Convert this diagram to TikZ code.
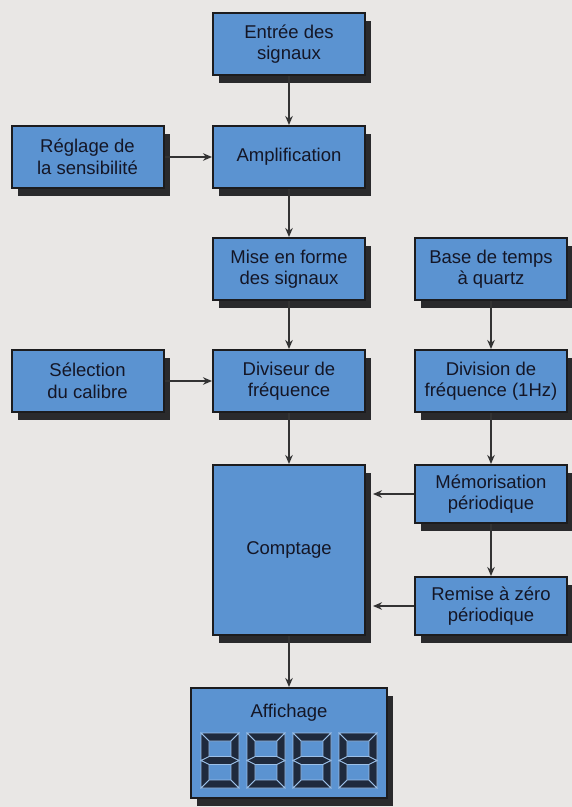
\documentclass[tikz,border=0pt]{standalone}
\usepackage{fontspec}
\setmainfont{Liberation Sans}
\usepackage{xcolor}
\usepackage{tikz}
\usetikzlibrary{arrows.meta,shadows}

\begin{document}
\begin{tikzpicture}[
  x=1pt, y=-1pt,
  font=\fontsize{18.5}{21.5}\selectfont,
  blk/.style={
    draw=cEdge, line width=2pt, fill=cBlue,
    minimum width=152pt, minimum height=62pt, inner sep=1pt,
    align=center, text=cInk,
    general shadow={fill=cShade, shadow xshift=6pt, shadow yshift=-8pt}},
  lbl/.style={text=cInk, inner sep=0pt},
  flow/.style={-{Stealth[length=9pt,width=7.5pt]}, line width=1.5pt, draw=cLine},
  seg/.style={fill=cSeg, draw=cGap, line width=0.8pt, line join=miter}
]

% ---- palette ----
\definecolor{cPaper}{HTML}{E9E7E5}
\definecolor{cBlue}{HTML}{5B93D1}
\definecolor{cEdge}{HTML}{1C1C1E}
\definecolor{cShade}{HTML}{2A2A2C}
\definecolor{cInk}{HTML}{141626}
\definecolor{cLine}{HTML}{333333}
\definecolor{cSeg}{HTML}{1F2A3D}
\definecolor{cGap}{HTML}{9CC0E8}

% ---- page ----
\fill[cPaper] (0,0) rectangle (572,807);
\useasboundingbox (0,0) rectangle (572,807);

% ================= left column =================
\node[blk] (regl) at (87.5,157) {Réglage de\\la sensibilité};
\node[blk] (selc) at (87.5,381) {Sélection\\du calibre};

% ================= middle column =================
\node[blk] (entr) at (289,44)  {Entrée des\\signaux};
\node[blk] (ampl) at (289,157) {Amplification};
\node[blk] (mise) at (289,269) {Mise en forme\\des signaux};
\node[blk] (divs) at (289,381) {Diviseur de\\fréquence};
\node[blk, minimum height=170pt] (cmpt) at (289,550) {Comptage};

% ================= right column =================
\node[blk] (base) at (491,269) {Base de temps\\à quartz};
\node[blk] (divh) at (491,381) {Division de\\fréquence (1Hz)};
\node[blk, minimum height=58pt] (memo) at (491,494) {Mémorisation\\périodique};
\node[blk, minimum height=58pt] (raz)  at (491,606) {Remise à zéro\\périodique};

% ================= display =================
\node[blk, minimum width=196pt, minimum height=110pt] (affi) at (289,743) {};
\node[lbl] (afft) at (289,713) {Affichage};
\foreach \dx in {0,46,92,138} {
  \begin{scope}[shift={(201+\dx,733)}]
    \draw[seg] (0,0) -- (38,0) -- (30,8) -- (8,8) -- cycle;
    \draw[seg] (0,55) -- (38,55) -- (30,47) -- (8,47) -- cycle;
    \draw[seg] (0,27.5) -- (8,23.5) -- (30,23.5) -- (38,27.5) -- (30,31.5) -- (8,31.5) -- cycle;
    \draw[seg] (0,0) -- (8,8) -- (8,23.5) -- (0,27.5) -- cycle;
    \draw[seg] (0,27.5) -- (8,31.5) -- (8,47) -- (0,55) -- cycle;
    \draw[seg] (38,0) -- (30,8) -- (30,23.5) -- (38,27.5) -- cycle;
    \draw[seg] (38,27.5) -- (30,31.5) -- (30,47) -- (38,55) -- cycle;
  \end{scope}
}

% ================= arrows =================
\foreach \a/\b in {entr/ampl, ampl/mise, mise/divs, divs/cmpt, cmpt/affi,
                   base/divh, divh/memo, memo/raz, regl/ampl, selc/divs}
  {\draw[flow] (\a) -- (\b);}
\draw[flow, shorten >=7pt] (memo.west) -- (memo.west -| cmpt.east);
\draw[flow, shorten >=7pt] (raz.west) -- (raz.west -| cmpt.east);

\end{tikzpicture}
\end{document}
